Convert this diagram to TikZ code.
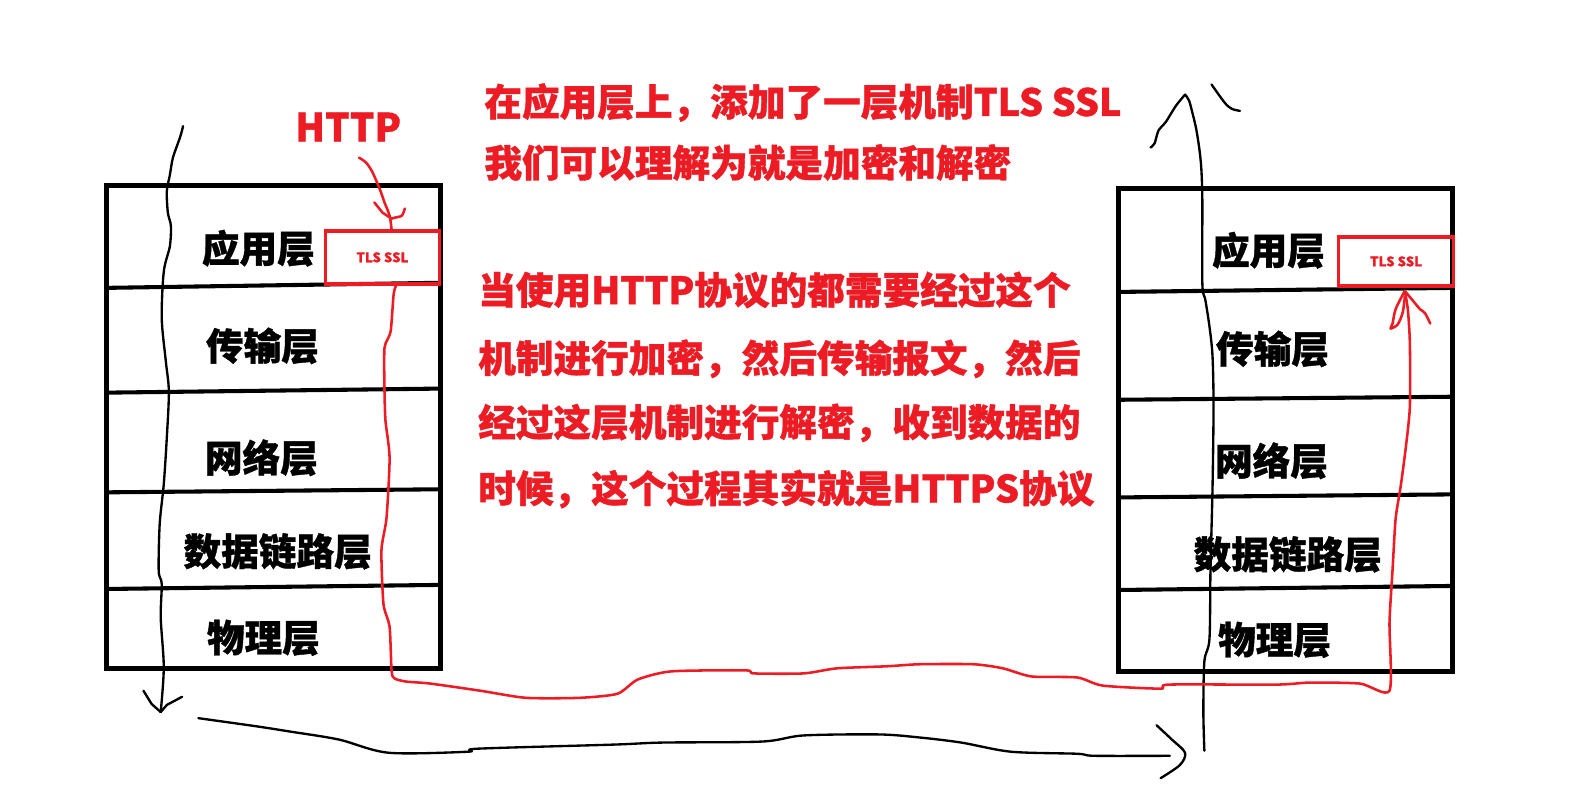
\documentclass[tikz,border=0pt]{standalone}
\usepackage{fontspec}
\setmainfont{Noto Sans CJK SC}[BoldFeatures={FakeBold=1}]
\usetikzlibrary{positioning}
\definecolor{paintred}{RGB}{237,28,36}

\begin{document}
\begin{tikzpicture}[x=1pt, y=-1pt,
  frame/.style = {draw, line width=5pt, minimum width=328pt, minimum height=475pt, inner sep=0pt},
  divider/.style = {line width=4pt},
  layer/.style = {font=\fontsize{37}{40}\selectfont\bfseries, inner sep=0pt},
  tls/.style = {draw=paintred, line width=3.5pt, text=paintred, font=\fontsize{13}{15}\selectfont\bfseries, inner sep=0pt},
  note/.style = {text=paintred, font=\fontsize{37}{40}\selectfont\bfseries, anchor=base west, inner sep=0pt},
  pen/.style = {line width=2.3pt, line cap=round, line join=round},
  redpen/.style = {pen, color=paintred, line width=2.5pt},
]
  \useasboundingbox[fill=white] (0,0) rectangle (1569,774);

  % left stack
  \node[frame] (stackL) at (269,419.5) {};
  \draw[divider] (104,283) -- (433,278);
  \draw[divider] (105,386) -- (433,382);
  \draw[divider] (105,484) -- (433,481);
  \draw[divider] (105,579) -- (433,575);

  \node[layer] (appL)  at (254,244) {应用层};
  \node[layer] (tranL) at (258,340) {传输层};
  \node[layer] (netL)  at (257,450) {网络层};
  \node[layer] (linkL) at (273,542) {数据链路层};
  \node[layer] (phyL)  at (259,627) {物理层};

  % right stack
  \node[frame] (stackR) at (1264,422.5) {};
  \draw[divider] (1098,287) -- (1430,283);
  \draw[divider] (1100,393) -- (1430,390);
  \draw[divider] (1100,489) -- (1430,486);
  \draw[divider] (1100,580) -- (1430,576);

  \node[layer] (appR)  at (1247,246) {应用层};
  \node[layer] (tranR) at (1251,343) {传输层};
  \node[layer] (netR)  at (1250,453) {网络层};
  \node[layer] (linkR) at (1266,545) {数据链路层};
  \node[layer] (phyR)  at (1253,629) {物理层};

  % tls boxes
  \node[tls, minimum width=112pt, minimum height=52pt] (tlsL) at (376,253) {TLS SSL\hspace{10pt}};
  \node[tls, minimum width=113pt, minimum height=48pt] (tlsR) at (1372.5,257) {TLS SSL\hspace{22pt}};

  % notes
  \node[note, font=\fontsize{38}{42}\selectfont\bfseries] (http) at (290,139) {HTTP};
  \node[note] (noteA1) at (476,114) {在应用层上，添加了一层机制TLS SSL};
  \node[note] (noteA2) at (476,174) {我们可以理解为就是加密和解密};
  \node[note] (noteB1) at (470,299) {当使用HTTP协议的都需要经过这个};
  \node[note] (noteB2) at (470,366) {机制进行加密，然后传输报文，然后};
  \node[note] (noteB3) at (470,429) {经过这层机制进行解密，收到数据的};
  \node[note] (noteB4) at (470,494) {时候，这个过程其实就是HTTPS协议};

  % black hand strokes
  \coordinate (downTop) at (180,124);
  \coordinate (downTip) at (158,700);
  \coordinate (acrossStart) at (195,706);
  \coordinate (acrossTip) at (1165,740);
  \coordinate (upFoot) at (1184,738);
  \coordinate (upTip) at (1165,93);

  \draw[pen] plot[smooth, tension=0.5] coordinates {(downTop) (177,135) (170,155) (167,172) (164,188)
    (165,209) (168,222) (167,242) (161,267) (159,313) (163,355) (166,385) (164,430) (161,476)
    (157,515) (156,561) (159,574) (158,607) (161,656) (downTip)};
  \draw[pen] (141,679) -- (149,692) -- (downTip);
  \draw[pen] (179,685) -- (164,693) -- (downTip);

  \draw[pen] plot[smooth, tension=0.5] coordinates {(acrossStart) (252,714) (284,719) (333,727)
    (382,740) (460,739) (470,736) (603,732) (651,730) (749,729) (790,723) (864,722) (904,725)
    (945,730) (994,739) (1059,741) (1076,743) (1150,743)};
  \draw[pen] plot[smooth, tension=0.5] coordinates {(1137,713) (1152,727) (acrossTip) (1160,752) (1141,765)};

  \draw[pen] plot[smooth, tension=0.5] coordinates {(upFoot) (1183,700) (1184,650) (1189,628)
    (1190,560) (1192,480) (1193,400) (1192,350) (1189,321) (1185,295) (1182,279) (1182,198)
    (1181,166) (1179,146) (1176,127) (1173,114) (1169,99) (upTip)};
  \draw[pen] plot[smooth, tension=0.5] coordinates {(upTip) (1156,104) (1146,120) (1139,128) (1135,141) (1131,145)};
  \draw[pen] plot[smooth, tension=0.5] coordinates {(1191,83) (1204,101) (1211,107) (1219,109)};

  % red hand strokes
  \coordinate (httpFoot) at (385,226);
  \draw[redpen] plot[smooth, tension=0.5] coordinates {(353,155) (360,160) (366,169) (373,185)
    (378,199) (383,212) (httpFoot)};
  \draw[redpen] (368,199) -- (376,209) -- (385,215);
  \draw[redpen] plot[smooth, tension=0.5] coordinates {(398,205) (395,212) (388,214) (385,215)};

  \coordinate (wireStart) at (390,279);
  \coordinate (wireEnd) at (1381,286);
  \draw[redpen] plot[smooth, tension=0.4] coordinates {(wireStart) (387,289) (384,326) (378,342)
    (378,385) (379,414) (383,450) (380,509) (375,541) (377,594) (383,616) (385,660) (388,667)
    (399,670) (423,672) (472,679) (517,686) (570,686) (607,682) (627,668) (660,660) (733,659)
    (741,662) (790,662) (823,657) (872,655) (904,653) (957,653) (986,657) (1014,665) (1059,666)
    (1084,674) (1141,677) (1149,673) (1255,673) (1288,671) (1337,672) (1366,679)
    (1366,612) (1369,560) (1372,510) (1377,478) (1382,440) (1386,400) (1386,337) (1384,304) (wireEnd)};
  \draw[redpen] plot[smooth, tension=0.5] coordinates {(wireEnd) (1372,304) (1369,318) (1367,323) (1374,319) (1379,307) (1381,292)};
  \draw[redpen] plot[smooth, tension=0.5] coordinates {(wireEnd) (1391,298) (1396,304) (1401,308) (1406,318)};

\end{tikzpicture}
\end{document}
